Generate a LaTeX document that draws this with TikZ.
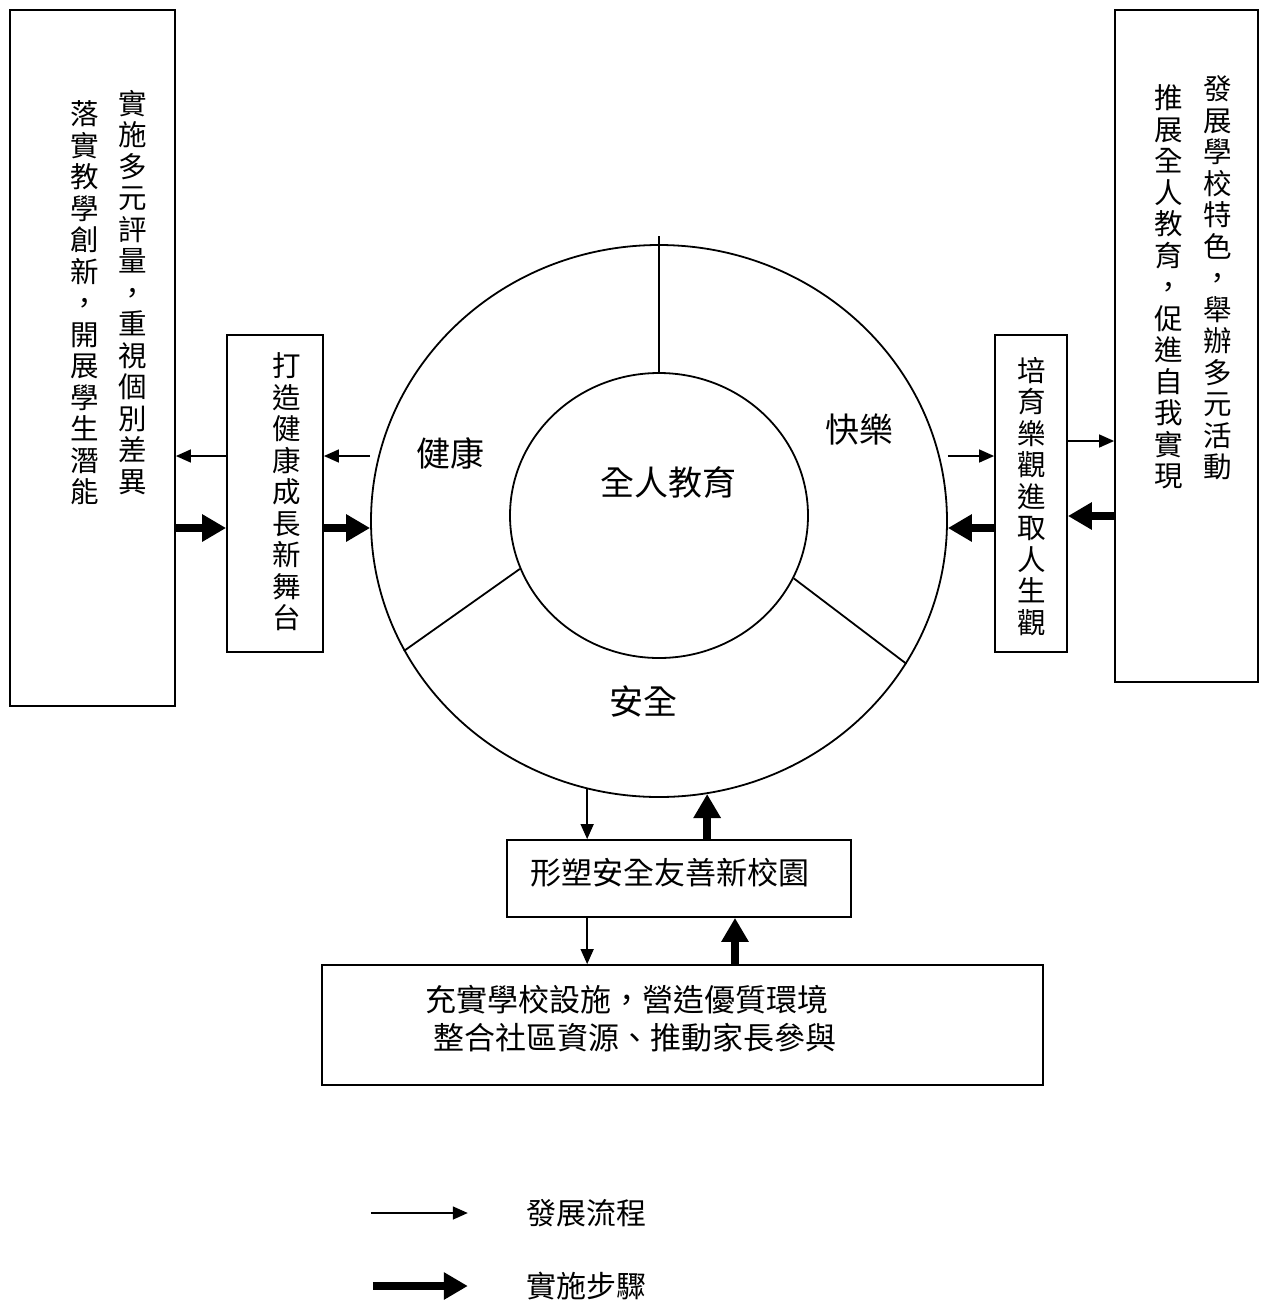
\documentclass[tikz,border=0pt]{standalone}
\usepackage{fontspec}
\setmainfont{Noto Sans CJK TC}
\usepackage{tikz}
\usetikzlibrary{arrows.meta,positioning,shapes.geometric}
\newcommand{\boxfont}{\fontsize{31}{31.5}\selectfont}
\newcommand{\colfont}{\fontsize{28.5}{31.5}\selectfont}
\newcommand{\ringfont}{\fontsize{34}{36}\selectfont}
\newcommand{\legfont}{\fontsize{30}{32}\selectfont}
\tikzset{%
	block/.style = {draw, rectangle, line width=1.8pt, inner sep=0pt}, % box
	ring/.style  = {draw, ellipse, line width=1.8pt, inner sep=0pt}, % circle
	vtext/.style = {align=center, inner sep=0pt, font=\colfont}, % vertical text
	htext/.style = {inner sep=0pt, font=\boxfont}, % horizontal text
	flow/.style  = {line width=1.5pt, -{Triangle[length=15pt,width=13pt]}}, % thin
	impl/.style  = {line width=8pt, -{Triangle[length=24pt,width=26pt]}}, % thick
}
\begin{document}
\begin{tikzpicture}[x=1pt,y=-1pt]
	\useasboundingbox (0,0) rectangle (1261,1302);
	\node [ring, minimum width=576, minimum height=552] (outer) at (659,521) {};
	\node [ring, minimum width=298, minimum height=285] (core) at (659,515.5) {};
	\draw [line width=1.8pt] (core.north) -- ++(0,-136);
	\draw [line width=1.8pt] (core.201) -- (outer.207);
	\draw [line width=1.8pt] (core.335) -- (outer.330);
	\node [htext, font=\ringfont] (lcore) at (668,482) {全人教育};
	\node [htext, font=\ringfont] (lhealth) at (450,453) {健康};
	\node [htext, font=\ringfont] (ljoy) at (859,430) {快樂};
	\node [htext, font=\ringfont] (lsafe) at (643,702) {安全};
	
	\node [block, minimum width=165, minimum height=696] (evalbox) at (92.5,358) {};
	\node [block, minimum width=96, minimum height=317] (stage) at (275,493.5) {};
	\node [block, minimum width=72, minimum height=317] (joybox) at (1031,493.5) {};
	\node [block, minimum width=143, minimum height=672] (featbox) at (1186.5,346) {};
	\node [block, minimum width=344, minimum height=77] (plaza) at (679,878.5) {};
	\node [block, minimum width=721, minimum height=120] (base) at (682.5,1025) {};
	
	\node [vtext] (teval1) at (133,292.5) {實\\施\\多\\元\\評\\量\\，\\重\\視\\個\\別\\差\\異};
	\node [vtext] (teval2) at (85,303) {落\\實\\教\\學\\創\\新\\，\\開\\展\\學\\生\\潛\\能};
	\node [vtext] (tstage) at (287,492) {打\\造\\健\\康\\成\\長\\新\\舞\\台};
	\node [vtext] (tjoy) at (1032,496.5) {培\\育\\樂\\觀\\進\\取\\人\\生\\觀};
	\node [vtext] (tfeat1) at (1218,278) {發\\展\\學\\校\\特\\色\\，\\舉\\辦\\多\\元\\活\\動};
	\node [vtext] (tfeat2) at (1169,287) {推\\展\\全\\人\\教\\育\\，\\促\\進\\自\\我\\實\\現};
	\node [htext] (tplaza) at (669.5,873) {形塑安全友善新校園};
	\node [htext] (tbase1) at (627,1000) {充實學校設施，營造優質環境};
	\node [htext] (tbase2) at (635,1038) {整合社區資源、推動家長參與};
	
	\draw [flow] (stage.west |- 0,456) -- (evalbox.east |- 0,456);
	\draw [flow] (outer.west |- 0,456) -- (stage.east |- 0,456);
	\draw [impl] (evalbox.east |- 0,528) -- (stage.west |- 0,528);
	\draw [impl] (stage.east |- 0,528) -- (outer.west |- 0,528);
	
	\draw [flow] (outer.east |- 0,456) -- (joybox.west |- 0,456);
	\draw [flow] (joybox.east |- 0,441) -- (featbox.west |- 0,441);
	\draw [impl] (featbox.west |- 0,516) -- (joybox.east |- 0,516);
	\draw [impl] (joybox.west |- 0,528) -- (outer.east |- 0,528);
	
	\draw [flow] (outer.255) -- (outer.255 |- plaza.north);
	\draw [impl] (plaza.north -| outer.280) -- (outer.280);
	\draw [flow] (outer.255 |- plaza.south) -- (outer.255 |- base.north);
	\draw [impl] (base.north -| 735,0) -- (plaza.south -| 735,0);
	
	% legend
	\node [htext, font=\legfont] (lflow) at (586,1213) {發展流程};
	\node [htext, font=\legfont] (limpl) at (586,1286) {實施步驟};
	\draw [flow] ([xshift=-155]lflow.west) -- ([xshift=-58]lflow.west);
	\draw [impl] ([xshift=-153]limpl.west) -- ([xshift=-58]limpl.west);
\end{tikzpicture}
\end{document}
